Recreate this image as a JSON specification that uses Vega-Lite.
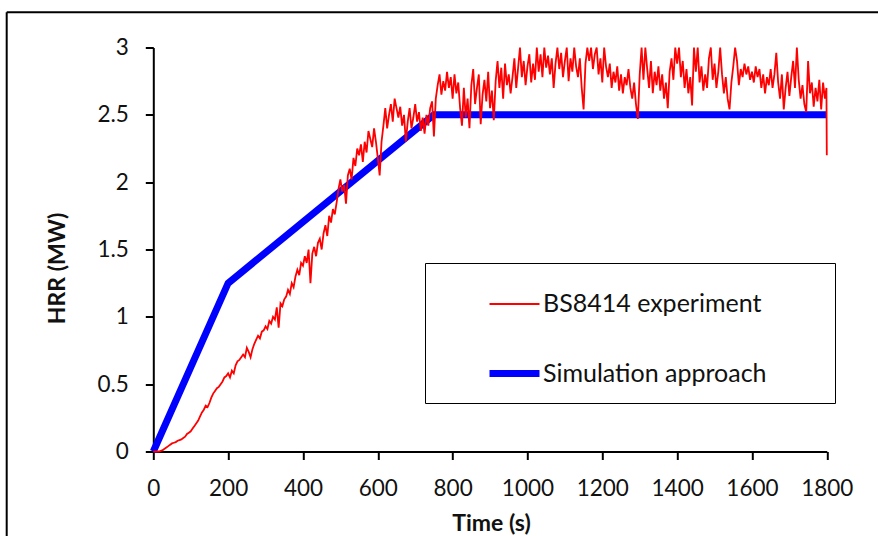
{
  "$schema": "https://vega.github.io/schema/vega-lite/v6.json",
  "width": 673.5,
  "height": 404,
  "autosize": "none",
  "padding": {"left": 153.3, "top": 47.5, "right": 51.2, "bottom": 84.5},
  "background": "white",
  "config": {
    "view": {"stroke": null},
    "font": "Lato",
    "axis": {
      "grid": false,
      "domainColor": "#000",
      "domainWidth": 2,
      "tickColor": "#000",
      "tickWidth": 2,
      "tickSize": 8,
      "labelColor": "#111",
      "labelFont": "Lato",
      "labelFontSize": 22.5,
      "titleFont": "Lato",
      "titleFontSize": 23,
      "titleFontWeight": "bold",
      "titleColor": "#111",
      "labelFlush": false,
      "labelOverlap": false
    },
    "legend": {
      "titleOrient": "right",
      "titlePadding": 50,
      "titleFontSize": 10,
      "titleColor": "#ffffff",
      "orient": "none",
      "legendX": 271.7,
      "legendY": 215.5,
      "symbolType": "stroke",
      "symbolSize": 2500,
      "labelFont": "Lato",
      "labelFontSize": 25,
      "labelColor": "#111",
      "labelLimit": 600,
      "labelOffset": 0,
      "padding": 15,
      "rowPadding": 28,
      "symbolOffset": 46,
      "strokeColor": "#000"
    }
  },
  "datasets": {
    "hrr": [
      {"t":0,"hrr":0,"series":"Simulation approach"},
      {"t":200,"hrr":1.25,"series":"Simulation approach"},
      {"t":750,"hrr":2.5,"series":"Simulation approach"},
      {"t":1800,"hrr":2.5,"series":"Simulation approach"},
      {"t":0,"hrr":0,"series":"BS8414 experiment"},
      {"t":5,"hrr":0,"series":"BS8414 experiment"},
      {"t":10,"hrr":0,"series":"BS8414 experiment"},
      {"t":15,"hrr":0,"series":"BS8414 experiment"},
      {"t":20,"hrr":0.005,"series":"BS8414 experiment"},
      {"t":25,"hrr":0.01,"series":"BS8414 experiment"},
      {"t":30,"hrr":0.02,"series":"BS8414 experiment"},
      {"t":35,"hrr":0.03,"series":"BS8414 experiment"},
      {"t":40,"hrr":0.04,"series":"BS8414 experiment"},
      {"t":45,"hrr":0.05,"series":"BS8414 experiment"},
      {"t":50,"hrr":0.06,"series":"BS8414 experiment"},
      {"t":55,"hrr":0.065,"series":"BS8414 experiment"},
      {"t":60,"hrr":0.07,"series":"BS8414 experiment"},
      {"t":65,"hrr":0.08,"series":"BS8414 experiment"},
      {"t":70,"hrr":0.085,"series":"BS8414 experiment"},
      {"t":75,"hrr":0.09,"series":"BS8414 experiment"},
      {"t":80,"hrr":0.1,"series":"BS8414 experiment"},
      {"t":85,"hrr":0.11,"series":"BS8414 experiment"},
      {"t":90,"hrr":0.13,"series":"BS8414 experiment"},
      {"t":95,"hrr":0.14,"series":"BS8414 experiment"},
      {"t":100,"hrr":0.15,"series":"BS8414 experiment"},
      {"t":105,"hrr":0.17,"series":"BS8414 experiment"},
      {"t":110,"hrr":0.19,"series":"BS8414 experiment"},
      {"t":115,"hrr":0.21,"series":"BS8414 experiment"},
      {"t":120,"hrr":0.23,"series":"BS8414 experiment"},
      {"t":125,"hrr":0.26,"series":"BS8414 experiment"},
      {"t":130,"hrr":0.29,"series":"BS8414 experiment"},
      {"t":135,"hrr":0.31,"series":"BS8414 experiment"},
      {"t":140,"hrr":0.34,"series":"BS8414 experiment"},
      {"t":145,"hrr":0.33,"series":"BS8414 experiment"},
      {"t":150,"hrr":0.36,"series":"BS8414 experiment"},
      {"t":155,"hrr":0.4,"series":"BS8414 experiment"},
      {"t":160,"hrr":0.43,"series":"BS8414 experiment"},
      {"t":165,"hrr":0.45,"series":"BS8414 experiment"},
      {"t":170,"hrr":0.47,"series":"BS8414 experiment"},
      {"t":175,"hrr":0.48,"series":"BS8414 experiment"},
      {"t":180,"hrr":0.5,"series":"BS8414 experiment"},
      {"t":185,"hrr":0.52,"series":"BS8414 experiment"},
      {"t":190,"hrr":0.55,"series":"BS8414 experiment"},
      {"t":195,"hrr":0.56,"series":"BS8414 experiment"},
      {"t":200,"hrr":0.58,"series":"BS8414 experiment"},
      {"t":205,"hrr":0.55,"series":"BS8414 experiment"},
      {"t":210,"hrr":0.6,"series":"BS8414 experiment"},
      {"t":215,"hrr":0.58,"series":"BS8414 experiment"},
      {"t":220,"hrr":0.64,"series":"BS8414 experiment"},
      {"t":225,"hrr":0.67,"series":"BS8414 experiment"},
      {"t":230,"hrr":0.68,"series":"BS8414 experiment"},
      {"t":235,"hrr":0.7,"series":"BS8414 experiment"},
      {"t":240,"hrr":0.72,"series":"BS8414 experiment"},
      {"t":245,"hrr":0.7,"series":"BS8414 experiment"},
      {"t":250,"hrr":0.77,"series":"BS8414 experiment"},
      {"t":255,"hrr":0.74,"series":"BS8414 experiment"},
      {"t":260,"hrr":0.7,"series":"BS8414 experiment"},
      {"t":265,"hrr":0.76,"series":"BS8414 experiment"},
      {"t":270,"hrr":0.8,"series":"BS8414 experiment"},
      {"t":275,"hrr":0.83,"series":"BS8414 experiment"},
      {"t":280,"hrr":0.86,"series":"BS8414 experiment"},
      {"t":285,"hrr":0.84,"series":"BS8414 experiment"},
      {"t":290,"hrr":0.89,"series":"BS8414 experiment"},
      {"t":295,"hrr":0.9,"series":"BS8414 experiment"},
      {"t":300,"hrr":0.93,"series":"BS8414 experiment"},
      {"t":305,"hrr":0.91,"series":"BS8414 experiment"},
      {"t":310,"hrr":0.97,"series":"BS8414 experiment"},
      {"t":315,"hrr":0.95,"series":"BS8414 experiment"},
      {"t":320,"hrr":1.0,"series":"BS8414 experiment"},
      {"t":325,"hrr":0.98,"series":"BS8414 experiment"},
      {"t":330,"hrr":1.07,"series":"BS8414 experiment"},
      {"t":335,"hrr":0.92,"series":"BS8414 experiment"},
      {"t":340,"hrr":1.1,"series":"BS8414 experiment"},
      {"t":345,"hrr":1.08,"series":"BS8414 experiment"},
      {"t":350,"hrr":1.13,"series":"BS8414 experiment"},
      {"t":355,"hrr":1.15,"series":"BS8414 experiment"},
      {"t":360,"hrr":1.2,"series":"BS8414 experiment"},
      {"t":365,"hrr":1.17,"series":"BS8414 experiment"},
      {"t":370,"hrr":1.25,"series":"BS8414 experiment"},
      {"t":375,"hrr":1.22,"series":"BS8414 experiment"},
      {"t":380,"hrr":1.3,"series":"BS8414 experiment"},
      {"t":385,"hrr":1.35,"series":"BS8414 experiment"},
      {"t":390,"hrr":1.31,"series":"BS8414 experiment"},
      {"t":395,"hrr":1.4,"series":"BS8414 experiment"},
      {"t":400,"hrr":1.38,"series":"BS8414 experiment"},
      {"t":405,"hrr":1.45,"series":"BS8414 experiment"},
      {"t":410,"hrr":1.4,"series":"BS8414 experiment"},
      {"t":415,"hrr":1.5,"series":"BS8414 experiment"},
      {"t":420,"hrr":1.25,"series":"BS8414 experiment"},
      {"t":425,"hrr":1.47,"series":"BS8414 experiment"},
      {"t":430,"hrr":1.52,"series":"BS8414 experiment"},
      {"t":435,"hrr":1.45,"series":"BS8414 experiment"},
      {"t":440,"hrr":1.55,"series":"BS8414 experiment"},
      {"t":445,"hrr":1.58,"series":"BS8414 experiment"},
      {"t":450,"hrr":1.5,"series":"BS8414 experiment"},
      {"t":455,"hrr":1.62,"series":"BS8414 experiment"},
      {"t":460,"hrr":1.68,"series":"BS8414 experiment"},
      {"t":465,"hrr":1.6,"series":"BS8414 experiment"},
      {"t":470,"hrr":1.75,"series":"BS8414 experiment"},
      {"t":475,"hrr":1.7,"series":"BS8414 experiment"},
      {"t":480,"hrr":1.8,"series":"BS8414 experiment"},
      {"t":485,"hrr":1.76,"series":"BS8414 experiment"},
      {"t":490,"hrr":1.85,"series":"BS8414 experiment"},
      {"t":495,"hrr":1.95,"series":"BS8414 experiment"},
      {"t":500,"hrr":2.02,"series":"BS8414 experiment"},
      {"t":505,"hrr":1.93,"series":"BS8414 experiment"},
      {"t":510,"hrr":1.98,"series":"BS8414 experiment"},
      {"t":515,"hrr":1.84,"series":"BS8414 experiment"},
      {"t":520,"hrr":2.05,"series":"BS8414 experiment"},
      {"t":525,"hrr":2.1,"series":"BS8414 experiment"},
      {"t":530,"hrr":2.02,"series":"BS8414 experiment"},
      {"t":535,"hrr":2.18,"series":"BS8414 experiment"},
      {"t":540,"hrr":2.12,"series":"BS8414 experiment"},
      {"t":545,"hrr":2.25,"series":"BS8414 experiment"},
      {"t":550,"hrr":2.2,"series":"BS8414 experiment"},
      {"t":555,"hrr":2.28,"series":"BS8414 experiment"},
      {"t":560,"hrr":2.15,"series":"BS8414 experiment"},
      {"t":565,"hrr":2.3,"series":"BS8414 experiment"},
      {"t":570,"hrr":2.22,"series":"BS8414 experiment"},
      {"t":575,"hrr":2.38,"series":"BS8414 experiment"},
      {"t":580,"hrr":2.32,"series":"BS8414 experiment"},
      {"t":585,"hrr":2.26,"series":"BS8414 experiment"},
      {"t":590,"hrr":2.4,"series":"BS8414 experiment"},
      {"t":595,"hrr":2.3,"series":"BS8414 experiment"},
      {"t":600,"hrr":2.18,"series":"BS8414 experiment"},
      {"t":605,"hrr":2.05,"series":"BS8414 experiment"},
      {"t":610,"hrr":2.3,"series":"BS8414 experiment"},
      {"t":615,"hrr":2.42,"series":"BS8414 experiment"},
      {"t":620,"hrr":2.55,"series":"BS8414 experiment"},
      {"t":625,"hrr":2.4,"series":"BS8414 experiment"},
      {"t":630,"hrr":2.5,"series":"BS8414 experiment"},
      {"t":635,"hrr":2.58,"series":"BS8414 experiment"},
      {"t":640,"hrr":2.45,"series":"BS8414 experiment"},
      {"t":645,"hrr":2.62,"series":"BS8414 experiment"},
      {"t":650,"hrr":2.55,"series":"BS8414 experiment"},
      {"t":655,"hrr":2.48,"series":"BS8414 experiment"},
      {"t":660,"hrr":2.56,"series":"BS8414 experiment"},
      {"t":665,"hrr":2.42,"series":"BS8414 experiment"},
      {"t":670,"hrr":2.5,"series":"BS8414 experiment"},
      {"t":675,"hrr":2.3,"series":"BS8414 experiment"},
      {"t":680,"hrr":2.45,"series":"BS8414 experiment"},
      {"t":685,"hrr":2.55,"series":"BS8414 experiment"},
      {"t":690,"hrr":2.4,"series":"BS8414 experiment"},
      {"t":695,"hrr":2.48,"series":"BS8414 experiment"},
      {"t":700,"hrr":2.58,"series":"BS8414 experiment"},
      {"t":705,"hrr":2.45,"series":"BS8414 experiment"},
      {"t":710,"hrr":2.52,"series":"BS8414 experiment"},
      {"t":715,"hrr":2.38,"series":"BS8414 experiment"},
      {"t":720,"hrr":2.48,"series":"BS8414 experiment"},
      {"t":725,"hrr":2.36,"series":"BS8414 experiment"},
      {"t":730,"hrr":2.5,"series":"BS8414 experiment"},
      {"t":735,"hrr":2.42,"series":"BS8414 experiment"},
      {"t":740,"hrr":2.55,"series":"BS8414 experiment"},
      {"t":745,"hrr":2.6,"series":"BS8414 experiment"},
      {"t":750,"hrr":2.34,"series":"BS8414 experiment"},
      {"t":755,"hrr":2.62,"series":"BS8414 experiment"},
      {"t":760,"hrr":2.72,"series":"BS8414 experiment"},
      {"t":765,"hrr":2.8,"series":"BS8414 experiment"},
      {"t":770,"hrr":2.65,"series":"BS8414 experiment"},
      {"t":775,"hrr":2.75,"series":"BS8414 experiment"},
      {"t":780,"hrr":2.68,"series":"BS8414 experiment"},
      {"t":785,"hrr":2.82,"series":"BS8414 experiment"},
      {"t":790,"hrr":2.7,"series":"BS8414 experiment"},
      {"t":795,"hrr":2.78,"series":"BS8414 experiment"},
      {"t":800,"hrr":2.62,"series":"BS8414 experiment"},
      {"t":805,"hrr":2.8,"series":"BS8414 experiment"},
      {"t":810,"hrr":2.66,"series":"BS8414 experiment"},
      {"t":815,"hrr":2.74,"series":"BS8414 experiment"},
      {"t":820,"hrr":2.55,"series":"BS8414 experiment"},
      {"t":825,"hrr":2.42,"series":"BS8414 experiment"},
      {"t":830,"hrr":2.7,"series":"BS8414 experiment"},
      {"t":835,"hrr":2.48,"series":"BS8414 experiment"},
      {"t":840,"hrr":2.62,"series":"BS8414 experiment"},
      {"t":845,"hrr":2.4,"series":"BS8414 experiment"},
      {"t":850,"hrr":2.72,"series":"BS8414 experiment"},
      {"t":855,"hrr":2.84,"series":"BS8414 experiment"},
      {"t":860,"hrr":2.58,"series":"BS8414 experiment"},
      {"t":865,"hrr":2.7,"series":"BS8414 experiment"},
      {"t":870,"hrr":2.8,"series":"BS8414 experiment"},
      {"t":875,"hrr":2.43,"series":"BS8414 experiment"},
      {"t":880,"hrr":2.65,"series":"BS8414 experiment"},
      {"t":885,"hrr":2.76,"series":"BS8414 experiment"},
      {"t":890,"hrr":2.6,"series":"BS8414 experiment"},
      {"t":895,"hrr":2.82,"series":"BS8414 experiment"},
      {"t":900,"hrr":2.55,"series":"BS8414 experiment"},
      {"t":905,"hrr":2.68,"series":"BS8414 experiment"},
      {"t":910,"hrr":2.46,"series":"BS8414 experiment"},
      {"t":915,"hrr":2.75,"series":"BS8414 experiment"},
      {"t":920,"hrr":2.9,"series":"BS8414 experiment"},
      {"t":925,"hrr":2.7,"series":"BS8414 experiment"},
      {"t":930,"hrr":2.85,"series":"BS8414 experiment"},
      {"t":935,"hrr":2.62,"series":"BS8414 experiment"},
      {"t":940,"hrr":2.88,"series":"BS8414 experiment"},
      {"t":945,"hrr":2.72,"series":"BS8414 experiment"},
      {"t":950,"hrr":2.8,"series":"BS8414 experiment"},
      {"t":955,"hrr":2.66,"series":"BS8414 experiment"},
      {"t":960,"hrr":2.78,"series":"BS8414 experiment"},
      {"t":965,"hrr":2.92,"series":"BS8414 experiment"},
      {"t":970,"hrr":2.7,"series":"BS8414 experiment"},
      {"t":975,"hrr":2.85,"series":"BS8414 experiment"},
      {"t":980,"hrr":3.0,"series":"BS8414 experiment"},
      {"t":985,"hrr":2.78,"series":"BS8414 experiment"},
      {"t":990,"hrr":2.9,"series":"BS8414 experiment"},
      {"t":995,"hrr":2.72,"series":"BS8414 experiment"},
      {"t":1000,"hrr":2.86,"series":"BS8414 experiment"},
      {"t":1005,"hrr":2.95,"series":"BS8414 experiment"},
      {"t":1010,"hrr":2.74,"series":"BS8414 experiment"},
      {"t":1015,"hrr":2.88,"series":"BS8414 experiment"},
      {"t":1020,"hrr":2.76,"series":"BS8414 experiment"},
      {"t":1025,"hrr":3.0,"series":"BS8414 experiment"},
      {"t":1030,"hrr":2.82,"series":"BS8414 experiment"},
      {"t":1035,"hrr":2.95,"series":"BS8414 experiment"},
      {"t":1040,"hrr":2.78,"series":"BS8414 experiment"},
      {"t":1045,"hrr":3.0,"series":"BS8414 experiment"},
      {"t":1050,"hrr":2.85,"series":"BS8414 experiment"},
      {"t":1055,"hrr":2.94,"series":"BS8414 experiment"},
      {"t":1060,"hrr":2.8,"series":"BS8414 experiment"},
      {"t":1065,"hrr":2.92,"series":"BS8414 experiment"},
      {"t":1070,"hrr":2.7,"series":"BS8414 experiment"},
      {"t":1075,"hrr":2.88,"series":"BS8414 experiment"},
      {"t":1080,"hrr":3.0,"series":"BS8414 experiment"},
      {"t":1085,"hrr":2.84,"series":"BS8414 experiment"},
      {"t":1090,"hrr":2.96,"series":"BS8414 experiment"},
      {"t":1095,"hrr":2.78,"series":"BS8414 experiment"},
      {"t":1100,"hrr":2.9,"series":"BS8414 experiment"},
      {"t":1105,"hrr":3.0,"series":"BS8414 experiment"},
      {"t":1110,"hrr":2.75,"series":"BS8414 experiment"},
      {"t":1115,"hrr":2.92,"series":"BS8414 experiment"},
      {"t":1120,"hrr":2.82,"series":"BS8414 experiment"},
      {"t":1125,"hrr":3.0,"series":"BS8414 experiment"},
      {"t":1130,"hrr":2.86,"series":"BS8414 experiment"},
      {"t":1135,"hrr":2.78,"series":"BS8414 experiment"},
      {"t":1140,"hrr":2.92,"series":"BS8414 experiment"},
      {"t":1145,"hrr":2.7,"series":"BS8414 experiment"},
      {"t":1150,"hrr":2.54,"series":"BS8414 experiment"},
      {"t":1155,"hrr":2.88,"series":"BS8414 experiment"},
      {"t":1160,"hrr":3.0,"series":"BS8414 experiment"},
      {"t":1165,"hrr":2.9,"series":"BS8414 experiment"},
      {"t":1170,"hrr":3.0,"series":"BS8414 experiment"},
      {"t":1175,"hrr":2.84,"series":"BS8414 experiment"},
      {"t":1180,"hrr":2.95,"series":"BS8414 experiment"},
      {"t":1185,"hrr":3.0,"series":"BS8414 experiment"},
      {"t":1190,"hrr":2.8,"series":"BS8414 experiment"},
      {"t":1195,"hrr":2.92,"series":"BS8414 experiment"},
      {"t":1200,"hrr":2.74,"series":"BS8414 experiment"},
      {"t":1205,"hrr":3.0,"series":"BS8414 experiment"},
      {"t":1210,"hrr":2.86,"series":"BS8414 experiment"},
      {"t":1215,"hrr":2.78,"series":"BS8414 experiment"},
      {"t":1220,"hrr":2.88,"series":"BS8414 experiment"},
      {"t":1225,"hrr":2.7,"series":"BS8414 experiment"},
      {"t":1230,"hrr":2.82,"series":"BS8414 experiment"},
      {"t":1235,"hrr":2.74,"series":"BS8414 experiment"},
      {"t":1240,"hrr":2.86,"series":"BS8414 experiment"},
      {"t":1245,"hrr":2.68,"series":"BS8414 experiment"},
      {"t":1250,"hrr":2.8,"series":"BS8414 experiment"},
      {"t":1255,"hrr":2.66,"series":"BS8414 experiment"},
      {"t":1260,"hrr":2.78,"series":"BS8414 experiment"},
      {"t":1265,"hrr":2.72,"series":"BS8414 experiment"},
      {"t":1270,"hrr":2.84,"series":"BS8414 experiment"},
      {"t":1275,"hrr":2.7,"series":"BS8414 experiment"},
      {"t":1280,"hrr":2.62,"series":"BS8414 experiment"},
      {"t":1285,"hrr":2.74,"series":"BS8414 experiment"},
      {"t":1290,"hrr":2.58,"series":"BS8414 experiment"},
      {"t":1295,"hrr":2.47,"series":"BS8414 experiment"},
      {"t":1300,"hrr":2.8,"series":"BS8414 experiment"},
      {"t":1305,"hrr":3.0,"series":"BS8414 experiment"},
      {"t":1310,"hrr":2.76,"series":"BS8414 experiment"},
      {"t":1315,"hrr":3.0,"series":"BS8414 experiment"},
      {"t":1320,"hrr":2.84,"series":"BS8414 experiment"},
      {"t":1325,"hrr":2.7,"series":"BS8414 experiment"},
      {"t":1330,"hrr":2.9,"series":"BS8414 experiment"},
      {"t":1335,"hrr":2.66,"series":"BS8414 experiment"},
      {"t":1340,"hrr":2.82,"series":"BS8414 experiment"},
      {"t":1345,"hrr":2.72,"series":"BS8414 experiment"},
      {"t":1350,"hrr":2.86,"series":"BS8414 experiment"},
      {"t":1355,"hrr":2.68,"series":"BS8414 experiment"},
      {"t":1360,"hrr":2.8,"series":"BS8414 experiment"},
      {"t":1365,"hrr":2.62,"series":"BS8414 experiment"},
      {"t":1370,"hrr":2.74,"series":"BS8414 experiment"},
      {"t":1375,"hrr":2.55,"series":"BS8414 experiment"},
      {"t":1380,"hrr":2.82,"series":"BS8414 experiment"},
      {"t":1385,"hrr":2.92,"series":"BS8414 experiment"},
      {"t":1390,"hrr":2.76,"series":"BS8414 experiment"},
      {"t":1395,"hrr":3.0,"series":"BS8414 experiment"},
      {"t":1400,"hrr":2.88,"series":"BS8414 experiment"},
      {"t":1405,"hrr":3.0,"series":"BS8414 experiment"},
      {"t":1410,"hrr":2.78,"series":"BS8414 experiment"},
      {"t":1415,"hrr":2.9,"series":"BS8414 experiment"},
      {"t":1420,"hrr":2.7,"series":"BS8414 experiment"},
      {"t":1425,"hrr":2.84,"series":"BS8414 experiment"},
      {"t":1430,"hrr":2.66,"series":"BS8414 experiment"},
      {"t":1435,"hrr":2.78,"series":"BS8414 experiment"},
      {"t":1440,"hrr":2.57,"series":"BS8414 experiment"},
      {"t":1445,"hrr":3.0,"series":"BS8414 experiment"},
      {"t":1450,"hrr":2.82,"series":"BS8414 experiment"},
      {"t":1455,"hrr":3.0,"series":"BS8414 experiment"},
      {"t":1460,"hrr":2.74,"series":"BS8414 experiment"},
      {"t":1465,"hrr":2.86,"series":"BS8414 experiment"},
      {"t":1470,"hrr":2.68,"series":"BS8414 experiment"},
      {"t":1475,"hrr":2.8,"series":"BS8414 experiment"},
      {"t":1480,"hrr":2.7,"series":"BS8414 experiment"},
      {"t":1485,"hrr":2.92,"series":"BS8414 experiment"},
      {"t":1490,"hrr":3.0,"series":"BS8414 experiment"},
      {"t":1495,"hrr":2.76,"series":"BS8414 experiment"},
      {"t":1500,"hrr":2.88,"series":"BS8414 experiment"},
      {"t":1505,"hrr":2.7,"series":"BS8414 experiment"},
      {"t":1510,"hrr":2.82,"series":"BS8414 experiment"},
      {"t":1515,"hrr":3.0,"series":"BS8414 experiment"},
      {"t":1520,"hrr":2.8,"series":"BS8414 experiment"},
      {"t":1525,"hrr":2.66,"series":"BS8414 experiment"},
      {"t":1530,"hrr":2.78,"series":"BS8414 experiment"},
      {"t":1535,"hrr":2.62,"series":"BS8414 experiment"},
      {"t":1540,"hrr":2.54,"series":"BS8414 experiment"},
      {"t":1545,"hrr":2.74,"series":"BS8414 experiment"},
      {"t":1550,"hrr":2.86,"series":"BS8414 experiment"},
      {"t":1555,"hrr":3.0,"series":"BS8414 experiment"},
      {"t":1560,"hrr":2.9,"series":"BS8414 experiment"},
      {"t":1565,"hrr":2.72,"series":"BS8414 experiment"},
      {"t":1570,"hrr":2.84,"series":"BS8414 experiment"},
      {"t":1575,"hrr":2.78,"series":"BS8414 experiment"},
      {"t":1580,"hrr":2.88,"series":"BS8414 experiment"},
      {"t":1585,"hrr":2.8,"series":"BS8414 experiment"},
      {"t":1590,"hrr":2.86,"series":"BS8414 experiment"},
      {"t":1595,"hrr":2.76,"series":"BS8414 experiment"},
      {"t":1600,"hrr":2.82,"series":"BS8414 experiment"},
      {"t":1605,"hrr":2.74,"series":"BS8414 experiment"},
      {"t":1610,"hrr":2.86,"series":"BS8414 experiment"},
      {"t":1615,"hrr":2.78,"series":"BS8414 experiment"},
      {"t":1620,"hrr":2.84,"series":"BS8414 experiment"},
      {"t":1625,"hrr":2.7,"series":"BS8414 experiment"},
      {"t":1630,"hrr":2.8,"series":"BS8414 experiment"},
      {"t":1635,"hrr":2.66,"series":"BS8414 experiment"},
      {"t":1640,"hrr":2.78,"series":"BS8414 experiment"},
      {"t":1645,"hrr":2.72,"series":"BS8414 experiment"},
      {"t":1650,"hrr":2.84,"series":"BS8414 experiment"},
      {"t":1655,"hrr":2.7,"series":"BS8414 experiment"},
      {"t":1660,"hrr":2.8,"series":"BS8414 experiment"},
      {"t":1665,"hrr":2.96,"series":"BS8414 experiment"},
      {"t":1670,"hrr":2.74,"series":"BS8414 experiment"},
      {"t":1675,"hrr":2.62,"series":"BS8414 experiment"},
      {"t":1680,"hrr":2.8,"series":"BS8414 experiment"},
      {"t":1685,"hrr":2.54,"series":"BS8414 experiment"},
      {"t":1690,"hrr":2.7,"series":"BS8414 experiment"},
      {"t":1695,"hrr":2.82,"series":"BS8414 experiment"},
      {"t":1700,"hrr":2.64,"series":"BS8414 experiment"},
      {"t":1705,"hrr":2.78,"series":"BS8414 experiment"},
      {"t":1710,"hrr":2.9,"series":"BS8414 experiment"},
      {"t":1715,"hrr":2.7,"series":"BS8414 experiment"},
      {"t":1720,"hrr":3.0,"series":"BS8414 experiment"},
      {"t":1725,"hrr":2.76,"series":"BS8414 experiment"},
      {"t":1730,"hrr":2.62,"series":"BS8414 experiment"},
      {"t":1735,"hrr":2.72,"series":"BS8414 experiment"},
      {"t":1740,"hrr":2.58,"series":"BS8414 experiment"},
      {"t":1745,"hrr":2.52,"series":"BS8414 experiment"},
      {"t":1750,"hrr":2.9,"series":"BS8414 experiment"},
      {"t":1755,"hrr":2.66,"series":"BS8414 experiment"},
      {"t":1760,"hrr":2.74,"series":"BS8414 experiment"},
      {"t":1765,"hrr":2.56,"series":"BS8414 experiment"},
      {"t":1770,"hrr":2.7,"series":"BS8414 experiment"},
      {"t":1775,"hrr":2.6,"series":"BS8414 experiment"},
      {"t":1780,"hrr":2.76,"series":"BS8414 experiment"},
      {"t":1785,"hrr":2.54,"series":"BS8414 experiment"},
      {"t":1790,"hrr":2.74,"series":"BS8414 experiment"},
      {"t":1795,"hrr":2.62,"series":"BS8414 experiment"},
      {"t":1799,"hrr":2.7,"series":"BS8414 experiment"},
      {"t":1800,"hrr":2.2,"series":"BS8414 experiment"}
    ]
  },
  "layer": [
    {
      "data": {"values": [{}]},
      "mark": {"type": "rule", "color": "#000", "strokeWidth": 2, "clip": false},
      "encoding": {
        "x": {"datum": -391.8, "type": "quantitative", "scale": {"domain": [0, 1800], "nice": false, "zero": false}},
        "x2": {"datum": 2100},
        "y": {"datum": 3.261, "type": "quantitative", "scale": {"domain": [0, 3], "nice": false}}
      }
    },
    {
      "data": {"values": [{}]},
      "mark": {"type": "rule", "color": "#000", "strokeWidth": 2, "clip": false},
      "encoding": {
        "x": {"datum": -391.8, "type": "quantitative"},
        "y": {"datum": 3.261, "type": "quantitative"},
        "y2": {"datum": -1}
      }
    },
    {
      "data": {"name": "hrr"},
      "mark": {"type": "line", "clip": false, "strokeCap": "butt", "strokeJoin": "miter"},
      "encoding": {
        "x": {
          "field": "t", "type": "quantitative",
          "scale": {"domain": [0, 1800], "nice": false, "zero": false},
          "axis": {
            "title": "Time (s)",
            "values": [0, 200, 400, 600, 800, 1000, 1200, 1400, 1600, 1800],
            "format": "d",
            "labelPadding": 18,
            "titleX": 337.7,
            "titleY": 78.5,
            "titleBaseline": "alphabetic",
            "titleAlign": "center"
          }
        },
        "y": {
          "field": "hrr", "type": "quantitative",
          "scale": {"domain": [0, 3], "nice": false},
          "axis": {
            "title": "HRR (MW)",
            "values": [0, 0.5, 1, 1.5, 2, 2.5, 3],
            "format": "~g",
            "labelPadding": 17,
            "titleX": -95.5,
            "titleY": 220.5,
            "titleAngle": 270,
            "titleAlign": "center",
            "titleBaseline": "middle"
          }
        },
        "color": {
          "field": "series", "type": "nominal",
          "title": ".",
          "scale": {"domain": ["BS8414 experiment", "Simulation approach"], "range": ["#FF0000", "#0000FF"]},
          "legend": {"title": ".", "titleOrient": "right", "titlePadding": 50, "titleColor": "#ffffff"}
        },
        "strokeWidth": {
          "field": "series", "type": "nominal",
          "title": ".",
          "scale": {"domain": ["BS8414 experiment", "Simulation approach"], "range": [1.8, 7]},
          "legend": {"title": ".", "titleOrient": "right", "titlePadding": 50, "titleColor": "#ffffff"}
        }
      }
    }
  ]
}
